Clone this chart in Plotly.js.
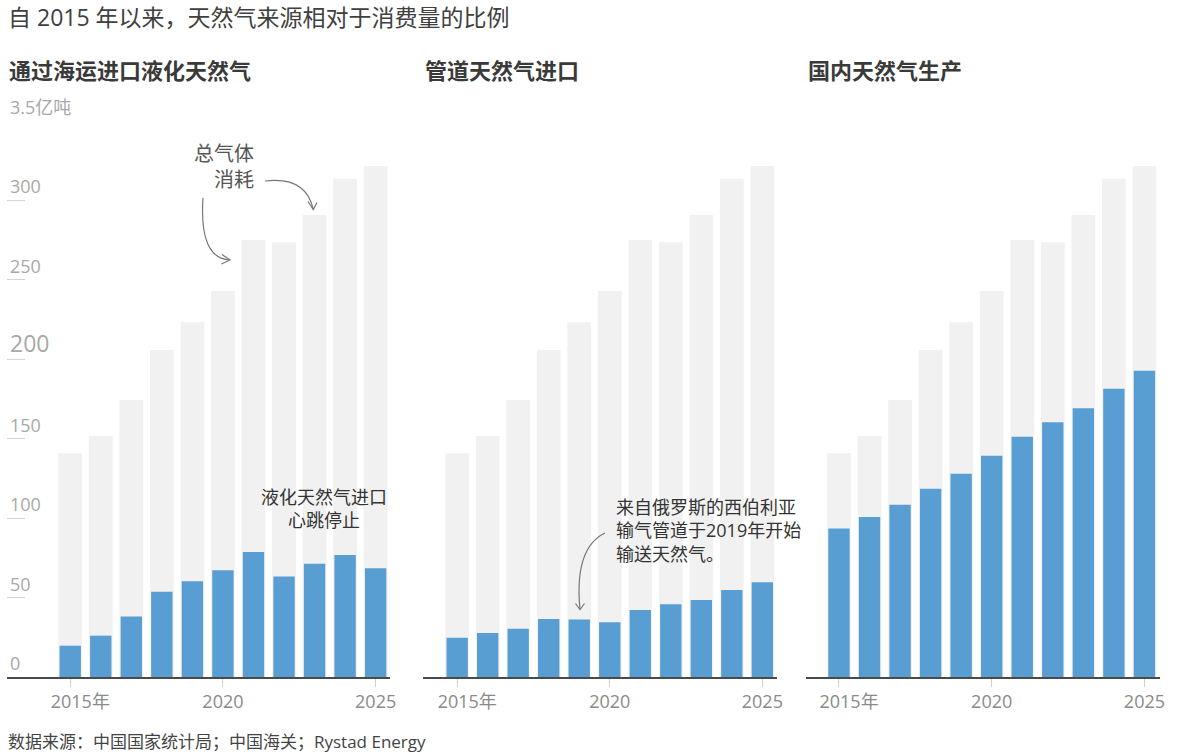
<!DOCTYPE html>
<html>
<head>
<meta charset="utf-8">
<script src="https://cdn.plot.ly/plotly-3.0.1.min.js"></script>
<style>
  body { margin: 0; background: #fff; }
  #chart { width: 1177px; height: 754px; }
</style>
</head>
<body>
<div id="chart"></div>
<script>
// values in million tonnes
var years = [2015, 2016, 2017, 2018, 2019, 2020, 2021, 2022, 2023, 2024, 2025]
var totalUse = [140.7, 151.6, 174.3, 205.7, 223.2, 242.9, 274.9, 273.5, 290.7, 313.5, 321.5]
var lngImports = [19.7, 26.0, 38.0, 53.7, 60.2, 67.1, 78.6, 63.3, 71.3, 76.8, 68.4]
var pipeImports = [24.7, 27.7, 30.4, 36.5, 36.1, 34.4, 42.2, 45.7, 48.4, 54.7, 59.6]
var domesticOutput = [93.5, 100.7, 108.4, 118.5, 127.9, 139.2, 151.2, 160.2, 169.1, 181.4, 192.7]

var panelTitles = ["通过海运进口液化天然气", "管道天然气进口", "国内天然气生产"]
var yTickVals = [0, 50, 100, 150, 200, 250, 300, 350]
var yTickText = ["0", "50", "100", "150", "<span style='font-size:23px'>200</span>", "250", "300", "3.5亿吨"]
var xTickVals = [2015, 2020, 2025]
var xTickText = ["2015年", "2020", "2025"]

var W = 1177, H = 754
var FONT = "Open Sans, Noto Sans CJK SC, sans-serif"
var BLUE = "#589ed3"
var GREY = "#f1f1f1"

var plotTop = 120.7, plotBottom = 677
var yMax = 350
var panels = [
    {left: 7, right: 390, range: [2012.93, 2025.47]},
    {left: 423.3, right: 777.3, range: [2013.89, 2025.49]},
    {left: 806, right: 1160, range: [2013.92, 2025.51]},
]

// pixel -> data helper for annotation arrows
function toData(p, px, py) {
    var pan = panels[p]
    var x = pan.range[0] + (px - pan.left) / (pan.right - pan.left) * (pan.range[1] - pan.range[0])
    var y = (plotBottom - py) / (plotBottom - plotTop) * yMax
    return x.toFixed(3) + "," + y.toFixed(2)
}
function arrowPath(p, pts) {
    return "M" + toData(p, pts[0][0], pts[0][1]) +
        " Q" + toData(p, pts[1][0], pts[1][1]) +
        " " + toData(p, pts[2][0], pts[2][1])
}
function headPath(p, pts) {
    return "M" + toData(p, pts[0][0], pts[0][1]) +
        " L" + toData(p, pts[1][0], pts[1][1]) +
        " L" + toData(p, pts[2][0], pts[2][1])
}

var series = [lngImports, pipeImports, domesticOutput]
var traces = []
series.forEach(function (vals, i) {
    var sfx = i == 0 ? "" : String(i + 1)
    traces.push({
        type: "bar", x: years, y: totalUse, width: 0.78,
        xaxis: "x" + sfx, yaxis: "y" + sfx,
        marker: {color: GREY}, hoverinfo: "x+y", name: "总气体消耗",
    })
    traces.push({
        type: "bar", x: years, y: vals, width: 0.7,
        xaxis: "x" + sfx, yaxis: "y" + sfx,
        marker: {color: BLUE}, hoverinfo: "x+y", name: panelTitles[i],
    })
})

var layout = {
    width: W,
    height: H,
    margin: {l: 0, r: 0, t: 0, b: 0},
    paper_bgcolor: "#fff",
    plot_bgcolor: "rgba(0,0,0,0)",
    showlegend: false,
    barmode: "overlay",
    font: {family: FONT, color: "#444"},
    annotations: [],
    shapes: [],
}

// "2015年": the digits sit centred on the tick, so the label is nudged right
var labelShift = [0.33, 0, 0]
var yDomain = [1 - plotBottom / H, 1 - plotTop / H]
panels.forEach(function (pan, i) {
    var sfx = i == 0 ? "" : String(i + 1)
    layout["xaxis" + sfx] = {
        domain: [pan.left / W, pan.right / W],
        range: pan.range,
        anchor: "y" + sfx,
        showgrid: false,
        zeroline: false,
        showline: true,
        linecolor: "#4a4a4a",
        linewidth: 1.5,
        ticks: "",
        tickvals: xTickVals.map(function (v, k) { return v + labelShift[k] }),
        ticktext: xTickText,
        ticklabelstandoff: 8,
        tickfont: {family: FONT, size: 18, color: "#8a8a8a"},
        minor: {
            tickvals: xTickVals,
            ticks: "outside",
            ticklen: 8,
            tickcolor: "#cfcfcf",
            tickwidth: 1,
            showgrid: false,
        },
        fixedrange: true,
    }
    layout["yaxis" + sfx] = {
        domain: yDomain,
        range: [0, yMax],
        anchor: "x" + sfx,
        showgrid: false,
        zeroline: false,
        showline: false,
        showticklabels: i == 0,
        ticks: i == 0 ? "inside" : "",
        ticklen: 18,
        tickcolor: "#d4d4d4",
        tickwidth: 1,
        tickvals: yTickVals,
        ticktext: yTickText,
        ticklabelposition: "inside top",
        ticklabeloverflow: "allow",
        tickfont: {family: FONT, size: 18, color: "#a8a8a8"},
        fixedrange: true,
    }
    layout.annotations.push({
        xref: "paper", yref: "paper",
        x: pan.left / W, y: 1 - 70 / H,
        xanchor: "left", yanchor: "middle",
        text: "<b>" + panelTitles[i] + "</b>",
        showarrow: false,
        font: {family: FONT, size: 22, color: "#3a3a3a"},
    })
})

layout.annotations.push({
    xref: "paper", yref: "paper", x: 6 / W, y: 1 - 17 / H,
    xanchor: "left", yanchor: "middle", showarrow: false,
    text: "自 2015 年以来，天然气来源相对于消费量的比例",
    font: {family: FONT, size: 23, color: "#404040"},
}, {
    xref: "paper", yref: "paper", x: 6 / W, y: 1 - 741 / H,
    xanchor: "left", yanchor: "middle", showarrow: false,
    text: "数据来源：中国国家统计局；中国海关；Rystad Energy",
    font: {family: FONT, size: 17, color: "#444"},
}, {
    xref: "paper", yref: "paper", x: 256 / W, y: 1 - 166 / H,
    xanchor: "right", yanchor: "middle", showarrow: false, align: "right",
    text: "总气体<br>消耗",
    font: {family: FONT, size: 20, color: "#555"},
}, {
    xref: "paper", yref: "paper", x: 324 / W, y: 1 - 509 / H,
    xanchor: "center", yanchor: "middle", showarrow: false, align: "center",
    text: "液化天然气进口<br>心跳停止",
    font: {family: FONT, size: 18, color: "#333"},
}, {
    xref: "paper", yref: "paper", x: 614 / W, y: 1 - 530 / H,
    xanchor: "left", yanchor: "middle", showarrow: false, align: "left",
    text: "来自俄罗斯的西伯利亚<br>输气管道于2019年开始<br>输送天然气。",
    font: {family: FONT, size: 18, color: "#333"},
})

var arrowLine = {color: "#777", width: 1.2}
var arrows = [
    {p: 0, curve: [[203, 198], [199, 258], [229.5, 260]], head: [[222, 254.5], [230, 260], [221.5, 264]]},
    {p: 0, curve: [[265, 181], [306, 176], [313.3, 209.5]], head: [[308, 201.5], [313.3, 209.5], [317, 202.5]]},
    {p: 1, curve: [[605, 533], [574, 548], [580, 609.5]], head: [[575.5, 603.5], [580, 609.5], [584.5, 603.5]]},
]
arrows.forEach(function (a) {
    var sfx = a.p == 0 ? "" : String(a.p + 1)
    layout.shapes.push({
        type: "path", xref: "x" + sfx, yref: "y" + sfx,
        path: arrowPath(a.p, a.curve), line: arrowLine,
    })
    layout.shapes.push({
        type: "path", xref: "x" + sfx, yref: "y" + sfx,
        path: headPath(a.p, a.head), line: arrowLine,
    })
})

Plotly.newPlot(document.getElementById("chart"), traces, layout, {displayModeBar: false, staticPlot: true})
</script>
</body>
</html>
